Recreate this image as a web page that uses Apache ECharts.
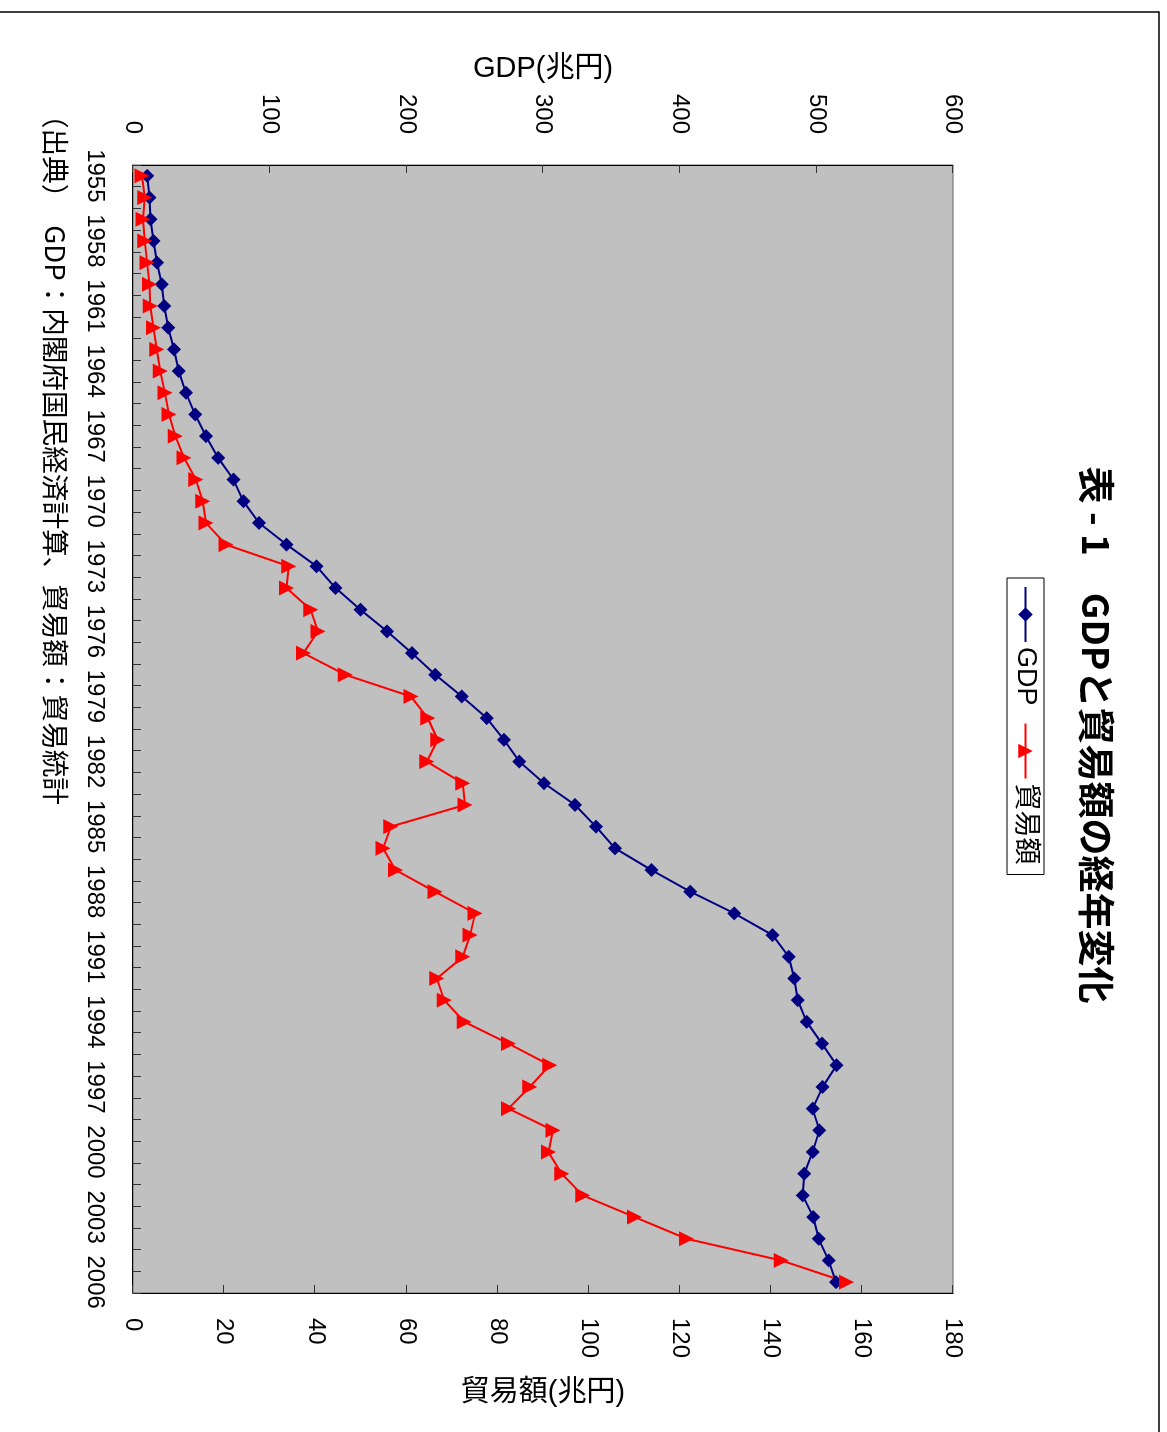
<!DOCTYPE html>
<html>
<head>
<meta charset="utf-8">
<script src="https://cdn.jsdelivr.net/npm/echarts@6/dist/echarts.min.js"></script>
<style>
html, body { margin: 0; padding: 0; background: #fff; overflow: hidden; width: 1167px; height: 1432px; }
#chart { position: absolute; left: 0; top: 0; width: 1432px; height: 1167px;
  transform-origin: 0 0; transform: translate(1167px, 0) rotate(90deg); }
</style>
</head>
<body>
<div id="chart"></div>
<script>
const years = ['1955','1956','1957','1958','1959','1960','1961','1962','1963','1964','1965','1966','1967','1968','1969','1970','1971','1972','1973','1974','1975','1976','1977','1978','1979','1980','1981','1982','1983','1984','1985','1986','1987','1988','1989','1990','1991','1992','1993','1994','1995','1996','1997','1998','1999','2000','2001','2002','2003','2004','2005','2006'];
const gdp = [10.4, 12.0, 12.8, 15.0, 17.5, 21.0, 22.8, 25.8, 30.0, 33.5, 38.7, 45.5, 53.4, 62.3, 73.5, 80.8, 92.2, 112.4, 134.3, 148.2, 166.4, 185.9, 204.1, 221.2, 240.6, 258.9, 271.5, 282.7, 300.7, 323.4, 338.7, 352.6, 379.3, 407.8, 440.0, 468.0, 479.8, 483.9, 486.4, 492.9, 504.1, 514.8, 504.6, 497.3, 502.2, 497.3, 491.2, 490.0, 497.8, 501.7, 509.0, 514.4];
const trade = [2.0, 2.6, 2.2, 2.6, 3.1, 3.6, 3.8, 4.5, 5.2, 6.0, 7.0, 7.9, 9.3, 11.2, 13.8, 15.3, 16.0, 20.4, 34.2, 33.7, 39.0, 40.6, 37.4, 46.6, 61.0, 64.7, 66.9, 64.5, 72.4, 72.9, 56.6, 54.9, 57.6, 66.3, 75.1, 74.0, 72.4, 66.7, 68.3, 72.7, 82.4, 91.5, 87.1, 82.4, 92.2, 91.2, 94.1, 98.7, 110.1, 121.5, 142.3, 156.6];
const seriesNames = ['GDP', '貿易額'];
const titleText = '表 - 1　GDPと貿易額の経年変化';
const sourceText = '（出典）　GDP：内閣府国民経済計算、貿易額：貿易統計';
const gdpAxisName = 'GDP(兆円)';
const tradeAxisName = '貿易額(兆円)';

const FONT = "'Liberation Sans', Arial, 'Noto Sans CJK JP', sans-serif";
const chart = echarts.init(document.getElementById('chart'), null, { renderer: 'canvas' });
chart.setOption({
  animation: false,
  backgroundColor: '#fff',
  textStyle: { fontFamily: FONT, color: '#000' },
  graphic: [
    { type: 'rect', silent: true, shape: { x: 12, y: 8, width: 3000, height: 3000 },
      style: { fill: 'none', stroke: '#000', lineWidth: 1.5 } },
    { type: 'text', x: 735, y: 71, silent: true,
      style: { text: titleText, font: "bold 37px 'Noto Sans CJK JP', sans-serif", fill: '#000',
               align: 'center', verticalAlign: 'middle' } },
    { type: 'text', silent: true, x: 101, y: 1112,
      style: { text: sourceText, font: "27.6px 'Noto Sans CJK JP', sans-serif", fill: '#000',
               align: 'left', verticalAlign: 'middle' } }
  ],
  legend: {
    left: 578, top: 123,
    itemWidth: 55, itemHeight: 18, itemGap: 17,
    padding: [5, 10, 5, 8],
    borderColor: '#000', borderWidth: 1, backgroundColor: '#fff',
    textStyle: { fontFamily: FONT, fontSize: 27, color: '#000' },
    data: seriesNames
  },
  grid: {
    left: 165, right: 139, top: 214, bottom: 133,
    show: true, backgroundColor: '#c0c0c0', borderColor: '#666', borderWidth: 1,
    containLabel: false, outerBoundsMode: 'none'
  },
  xAxis: {
    type: 'category', data: years, boundaryGap: true,
    axisLine: { lineStyle: { color: '#000', width: 1 } },
    axisTick: { show: true, inside: true, interval: 0, length: 8, lineStyle: { color: '#333' } },
    axisLabel: { interval: 2, fontSize: 24, margin: 26, color: '#000', fontFamily: FONT },
    splitLine: { show: false }
  },
  yAxis: [
    { type: 'value', position: 'left', min: 0, max: 600, interval: 100,
      name: gdpAxisName, nameLocation: 'middle', nameRotate: 90, nameGap: 81,
      nameTextStyle: { fontSize: 29, color: '#000', fontFamily: FONT },
      axisLine: { show: true, lineStyle: { color: '#000', width: 1 } },
      axisTick: { show: true, inside: true, length: 8, lineStyle: { color: '#333' } },
      axisLabel: { fontSize: 24, margin: 31, color: '#000', fontFamily: FONT },
      splitLine: { show: false } },
    { type: 'value', position: 'right', min: 0, max: 180, interval: 20,
      name: tradeAxisName, nameLocation: 'middle', nameRotate: 90, nameGap: 85,
      nameTextStyle: { fontSize: 29, color: '#000', fontFamily: FONT },
      axisLine: { show: true, lineStyle: { color: '#000', width: 1 } },
      axisTick: { show: true, inside: true, length: 8, lineStyle: { color: '#333' } },
      axisLabel: { fontSize: 24, margin: 25, color: '#000', fontFamily: FONT },
      splitLine: { show: false } }
  ],
  series: [
    { name: seriesNames[0], type: 'line', yAxisIndex: 0, data: gdp,
      symbol: 'diamond', symbolSize: 14, showAllSymbol: true,
      itemStyle: { color: '#000080' }, lineStyle: { color: '#000080', width: 2 } },
    { name: seriesNames[1], type: 'line', yAxisIndex: 1, data: trade,
      symbol: 'triangle', symbolSize: 15, showAllSymbol: true,
      itemStyle: { color: '#ff0000' }, lineStyle: { color: '#ff0000', width: 2 } }
  ]
});
</script>
</body>
</html>
